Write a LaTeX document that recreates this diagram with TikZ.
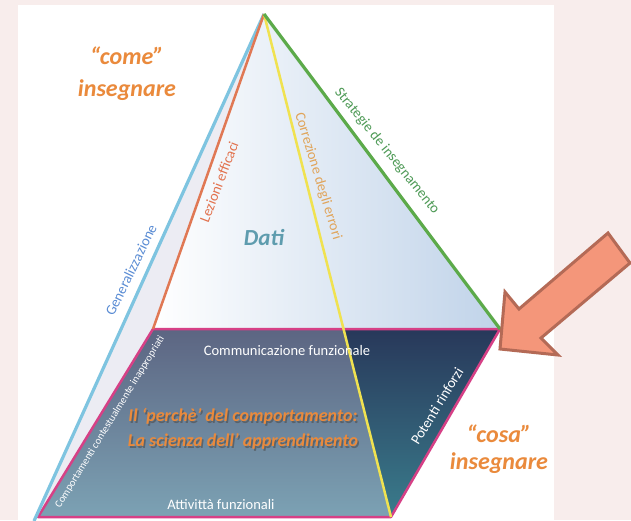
\documentclass[tikz,border=0pt]{standalone}
\usepackage{fontspec}
\setmainfont{Carlito}
\definecolor{bgpink}{RGB}{248,237,236}
\definecolor{sideface}{RGB}{236,236,243}
\definecolor{faceblue}{RGB}{192,211,233}
\definecolor{baseLtop}{RGB}{92,101,130}
\definecolor{baseLbot}{RGB}{124,162,180}
\definecolor{baseRtop}{RGB}{40,56,90}
\definecolor{baseRbot}{RGB}{58,124,140}
\definecolor{pinkedge}{RGB}{214,64,134}
\definecolor{lineblue}{RGB}{126,196,224}
\definecolor{lineorange}{RGB}{224,120,84}
\definecolor{lineyellow}{RGB}{240,226,80}
\definecolor{linegreen}{RGB}{92,170,74}
\definecolor{titleorange}{RGB}{234,138,60}
\definecolor{daticol}{RGB}{94,156,174}
\definecolor{genblue}{RGB}{90,140,212}
\definecolor{lezorange}{RGB}{226,114,78}
\definecolor{corrtan}{RGB}{224,164,90}
\definecolor{stratgreen}{RGB}{78,154,86}
\definecolor{arrowfill}{RGB}{244,150,122}
\definecolor{arrowedge}{RGB}{180,106,86}
\begin{document}
\begin{tikzpicture}[x=1pt,y=-1pt,
  edge/.style={line width=#1},
  bigtitle/.style={text=titleorange, font=\fontsize{24}{27}\selectfont\bfseries\itshape, align=center, inner sep=0pt},
  edgelabel/.style={font=\fontsize{14.5}{16}\selectfont, inner sep=0pt},
  whitelabel/.style={text=white, font=\fontsize{14.5}{16}\selectfont, inner sep=0pt},
  basetitle/.style={font=\fontsize{18}{25}\selectfont\bfseries\itshape, align=center, inner sep=0pt}]
\useasboundingbox (0,0) rectangle (631,520);
% page and panel
\fill[bgpink] (0,0) rectangle (631,520);
\fill[white] (18,5) rectangle (554,520);

% pyramid corners
\coordinate (apex) at (264,14);
\coordinate (btl) at (153,329);
\coordinate (btr) at (500,329);
\coordinate (bbr) at (391,517);
\coordinate (bbl) at (38,517);
\coordinate (bmid) at (343.5,329);
\coordinate (gend) at (34,521);

% faces
\fill[sideface] (apex) -- (gend) -- (bbl) -- (btl) -- cycle;
\shade[left color=white, middle color=faceblue!18!white, right color=faceblue] (apex) -- (btl) -- (btr) -- cycle;
\shade[top color=baseLtop, bottom color=baseLbot] (btl) -- (bmid) -- (bbr) -- (bbl) -- cycle;
\shade[top color=baseRtop, bottom color=baseRbot] (bmid) -- (btr) -- (bbr) -- cycle;

% edges
\draw[pinkedge, edge=2.5, line join=round] (btl) -- (btr) -- (bbr) -- (bbl) -- cycle;
\draw[lineblue, edge=3.2] (apex) -- (gend);
\draw[lineorange, edge=2.5] (apex) -- (btl);
\draw[lineyellow, edge=2.5] (apex) -- (bbr);
\draw[linegreen, edge=3.2] (apex) -- (btr);

% edge labels
\node[edgelabel, text=genblue, rotate=64] (gen) at (131,270) {Generalizzazione};
\node[edgelabel, text=lezorange, rotate=69] (lez) at (219,182) {Lezioni efficaci};
\node[edgelabel, text=corrtan, rotate=-73] (corr) at (318,176) {Correzione degli errori};
\node[edgelabel, text=stratgreen, rotate=-51] (strat) at (387,151) {Strategie de insegnamento};

% face texts
\node[text=daticol, font=\fontsize{23}{26}\selectfont\bfseries\itshape, inner sep=0pt] (dati) at (264,238) {Dati};
\node[bigtitle, font=\fontsize{24}{32}\selectfont\bfseries\itshape] (come) at (127,74) {“come”\\insegnare};
\node[bigtitle] (cosa) at (499,449) {“cosa”\\insegnare};

% base texts
\node[whitelabel] (comm) at (287,351) {Communicazione funzionale};
\node[whitelabel] (att) at (221,505) {Attivittà funzionali};
\node[text=white, font=\fontsize{10.5}{12}\selectfont, inner sep=0pt, rotate=58.5] (inap) at (110,422) {Comportamenti contestualmente inappropriati};
\node[whitelabel, rotate=58.5] (rinf) at (437,406) {Potenti rinforzi};
\node[basetitle, text=black!70, opacity=0.6] (whyshadow) at (244.5,430.5) {Il ‘perchè’ del comportamento:\\La scienza dell’ apprendimento};
\node[basetitle, text=titleorange] (why) at (243,429) {Il ‘perchè’ del comportamento:\\La scienza dell’ apprendimento};

% pointer arrow
\draw[arrowedge, fill=arrowfill, line width=3, line join=miter]
  (500,349) -- (505,292) -- (519,309) -- (608,233) -- (630,263) -- (541,338) -- (558,355) -- cycle;
\end{tikzpicture}
\end{document}
